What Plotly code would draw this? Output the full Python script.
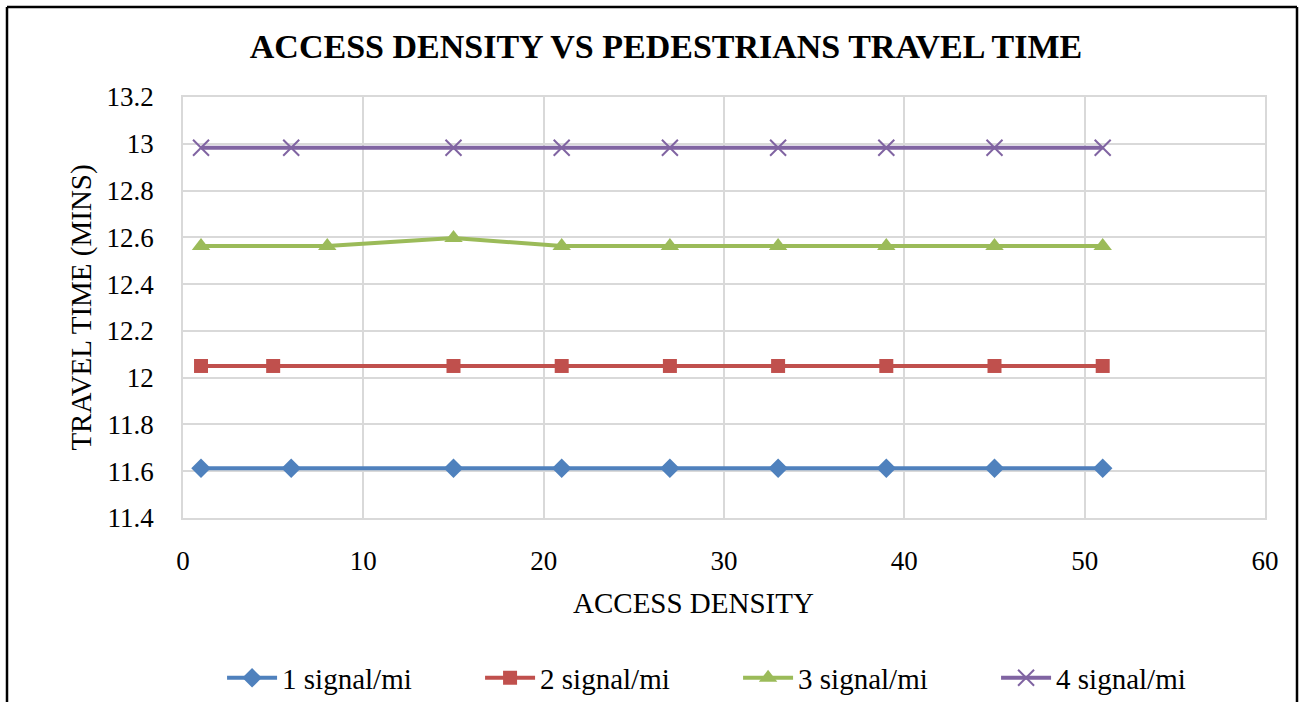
import plotly.graph_objects as go

x_1sig = [1, 6, 15, 21, 27, 33, 39, 45, 51]
y_1sig = [11.613, 11.613, 11.613, 11.613, 11.613, 11.613, 11.613, 11.613, 11.613]
x_2sig = [1, 5, 15, 21, 27, 33, 39, 45, 51]
y_2sig = [12.05, 12.05, 12.05, 12.05, 12.05, 12.05, 12.05, 12.05, 12.05]
x_3sig = [1, 8, 15, 21, 27, 33, 39, 45, 51]
y_3sig = [12.563, 12.563, 12.597, 12.563, 12.563, 12.563, 12.563, 12.563, 12.563]
x_4sig = [1, 6, 15, 21, 27, 33, 39, 45, 51]
y_4sig = [12.983, 12.983, 12.983, 12.983, 12.983, 12.983, 12.983, 12.983, 12.983]

names = ["1 signal/mi", "2 signal/mi", "3 signal/mi", "4 signal/mi"]
colors = ["#4f81bd", "#c0504d", "#9bbb59", "#8064a2"]

FONT = "Liberation Serif"

fig = go.Figure()
fig.add_trace(go.Scatter(x=x_1sig, y=y_1sig, name=names[0], mode="lines+markers",
                         line=dict(color=colors[0], width=4),
                         marker=dict(symbol="diamond", size=15, color=colors[0])))
fig.add_trace(go.Scatter(x=x_2sig, y=y_2sig, name=names[1], mode="lines+markers",
                         line=dict(color=colors[1], width=4),
                         marker=dict(symbol="square", size=14, color=colors[1])))
fig.add_trace(go.Scatter(x=x_3sig, y=y_3sig, name=names[2], mode="lines+markers",
                         line=dict(color=colors[2], width=4),
                         marker=dict(symbol="triangle-up", size=16, color=colors[2])))
fig.add_trace(go.Scatter(x=x_4sig, y=y_4sig, name=names[3], mode="lines+markers",
                         line=dict(color=colors[3], width=4),
                         marker=dict(symbol="x-thin", size=16, color=colors[3],
                                     line=dict(color=colors[3], width=2))))

fig.update_xaxes(range=[0, 60], dtick=10, showgrid=True, gridcolor="#d9d9d9", gridwidth=1.5,
                 showline=True, linecolor="#d9d9d9", linewidth=1.5, mirror=True,
                 zeroline=False, ticks="", ticklabelstandoff=18,
                 tickfont=dict(family=FONT, size=27, color="black"))
fig.update_yaxes(range=[11.4, 13.2], dtick=0.2, showgrid=True, gridcolor="#d9d9d9", gridwidth=1.5,
                 showline=True, linecolor="#d9d9d9", linewidth=1.5, mirror=True,
                 zeroline=False, ticks="", ticklabelstandoff=22,
                 tickformat="~g",
                 tickfont=dict(family=FONT, size=27, color="black"),
                 title=dict(text="TRAVEL TIME (MINS)", standoff=6,
                            font=dict(family=FONT, size=29, color="black")))

# x axis title sits a little left of the plot centre in the original
fig.add_annotation(text="ACCESS DENSITY", xref="paper", yref="paper",
                   x=(693 - 183) / 1082, y=(518 - 603) / 421, showarrow=False,
                   xanchor="center", yanchor="middle",
                   font=dict(family=FONT, size=29, color="black"))

# outer frame of the chart area (left, top and right edges)
pw, ph = 1082.0, 421.0
xl, xr = (7 - 183) / pw, (1297 - 183) / pw
yt, yb = (518 - 7) / ph, (518 - 710) / ph
for x0, y0, x1, y1 in [(xl, yb, xl, yt), (xl, yt, xr, yt), (xr, yt, xr, yb)]:
    fig.add_shape(type="line", xref="paper", yref="paper", x0=x0, y0=y0, x1=x1, y1=y1,
                  line=dict(color="black", width=2.5))

fig.update_layout(
    width=1300, height=702,
    margin=dict(l=183, r=35, t=97, b=184, autoexpand=False),
    paper_bgcolor="white", plot_bgcolor="white",
    font=dict(family=FONT, color="black"),
    title=dict(text="<b>ACCESS DENSITY VS PEDESTRIANS TRAVEL TIME</b>",
               x=666 / 1300, xanchor="center", y=1 - 46 / 702, yanchor="middle",
               font=dict(family=FONT, size=34, color="black")),
    legend=dict(orientation="h", x=0.513, xanchor="center", y=-0.38, yanchor="middle",
                font=dict(family=FONT, size=29, color="black"),
                entrywidth=193, itemwidth=50),
    showlegend=True,
)

fig.write_html("out.html", config={"displayModeBar": False},
               post_script="document.body.style.margin='0';")
